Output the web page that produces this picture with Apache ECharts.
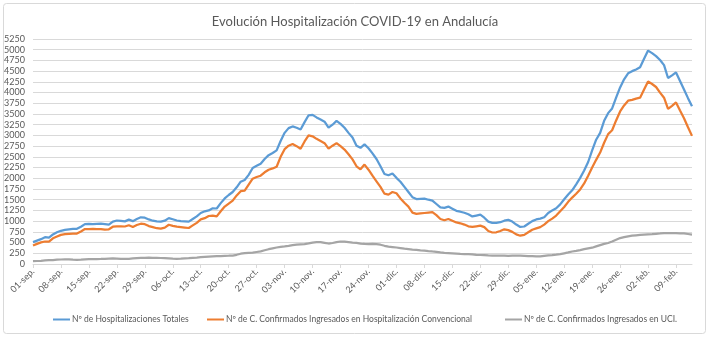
<!DOCTYPE html>
<html>
<head>
<meta charset="utf-8">
<script src="https://cdn.jsdelivr.net/npm/echarts@6/dist/echarts.min.js"></script>
<style>
  html, body { margin: 0; padding: 0; background: #ffffff; }
  #chart { width: 710px; height: 340px; }
</style>
</head>
<body>
<div id="chart"></div>
<script>
// Daily dates from 01-sep to 13-feb
const monthNames = ['sep.', 'oct.', 'nov.', 'dic.', 'ene.', 'feb.'];
const monthDays = [30, 31, 30, 31, 31, 13];
const categories = [];
monthNames.forEach((m, k) => {
  for (let d = 1; d <= monthDays[k]; d++) {
    categories.push(String(d).padStart(2, '0') + '-' + m);
  }
});

const seriesNames = [
  'Nº de Hospitalizaciones Totales',
  'Nº de C. Confirmados Ingresados en Hospitalización Convencional',
  'Nº de C. Confirmados Ingresados en UCI.'
];

// Total hospitalised
const totales = [
  510, 545, 580, 625, 615, 690, 740, 775, 795, 810,
  820, 820, 870, 930, 935, 930, 935, 940, 930, 920,
  990, 1015, 1005, 995, 1035, 1000, 1050, 1090, 1080, 1040,
  1010, 995, 990, 1010, 1070, 1045, 1015, 1000, 995, 990,
  1050, 1110, 1190, 1230, 1250, 1300, 1295, 1420, 1530, 1610,
  1680, 1790, 1920, 1960, 2080, 2240, 2290, 2340, 2450, 2540,
  2590, 2650, 2870, 3060, 3170, 3210, 3180, 3140, 3310, 3470,
  3480, 3420, 3370, 3320, 3180, 3250, 3340, 3270, 3180, 3060,
  2950, 2760, 2710, 2790, 2700, 2580, 2450, 2280, 2100, 2070,
  2110, 2010, 1920, 1800, 1680, 1560, 1515, 1520, 1525, 1500,
  1480, 1400, 1320, 1310, 1340, 1290, 1240, 1220, 1195, 1160,
  1110, 1130, 1150, 1080, 990, 960, 960, 975, 1010, 1030,
  990, 920, 865, 875, 940, 1000, 1040, 1060, 1090, 1190,
  1250, 1300, 1390, 1510, 1620, 1720, 1860, 2010, 2180, 2380,
  2650, 2900, 3060, 3340, 3520, 3630, 3880, 4120, 4310, 4450,
  4500, 4540, 4590, 4790, 4980, 4920, 4850, 4760, 4640, 4340,
  4400, 4470, 4270, 4070, 3870, 3680
];

// Confirmed cases in conventional ward
const convencional = [
  430, 470, 505, 525, 520, 600, 640, 680, 695, 705,
  710, 710, 760, 815, 815, 820, 815, 815, 800, 810,
  870, 880, 880, 875, 905, 865, 910, 940, 930, 885,
  860, 835, 825, 850, 915, 890, 870, 860, 850, 840,
  900, 960, 1040, 1070, 1120, 1130, 1110, 1230, 1340, 1410,
  1480, 1600, 1700, 1710, 1850, 1990, 2030, 2060, 2140, 2200,
  2230, 2270, 2500, 2680, 2760, 2800, 2750, 2690, 2860, 3000,
  2980, 2920, 2870, 2820, 2690, 2760, 2820, 2750, 2670, 2560,
  2440, 2280, 2210, 2320, 2200, 2060, 1930, 1800, 1640, 1620,
  1680, 1650, 1530, 1430, 1340, 1200, 1170, 1180, 1190, 1200,
  1210, 1140, 1050, 1020, 1050, 1010, 970, 950, 920, 880,
  865, 880, 895, 860, 770, 735, 740, 770, 810, 790,
  750, 690, 660, 680, 740, 800, 830, 860, 920, 1000,
  1060, 1130, 1230, 1330, 1450, 1550, 1640, 1740, 1880, 2060,
  2250, 2430, 2600, 2830, 3030, 3120, 3350, 3560, 3700, 3810,
  3830, 3860, 3880, 4070, 4260, 4200, 4130, 4000, 3880, 3620,
  3690, 3770, 3580, 3400, 3190, 2990
];

// Confirmed cases in ICU
const uci = [
  65, 70, 75, 82, 88, 92, 100, 105, 110, 108,
  100, 98, 102, 108, 112, 114, 116, 118, 122, 126,
  130, 128, 122, 118, 122, 130, 136, 142, 145, 146,
  144, 142, 140, 138, 132, 125, 122, 124, 130, 136,
  145, 150, 158, 165, 172, 178, 182, 186, 190, 193,
  197, 215, 240, 255, 262, 265, 280, 295, 320, 345,
  365, 385, 400, 412, 425, 440, 450, 458, 465, 480,
  500, 510, 512, 495, 478, 490, 510, 525, 520, 510,
  500, 492, 478, 468, 466, 467, 465, 450, 425, 405,
  395, 385, 372, 358, 348, 338, 330, 320, 312, 302,
  293, 285, 272, 260, 255, 250, 244, 238, 233, 228,
  222, 215, 210, 205, 200, 198, 196, 194, 193, 192,
  193, 194, 193, 190, 186, 182, 178, 176, 190, 200,
  208, 218, 230, 250, 270, 292, 308, 325, 345, 365,
  380, 410, 440, 468, 490, 525, 565, 605, 625, 645,
  660, 670, 678, 685, 692, 698, 705, 712, 720, 722,
  720, 718, 715, 712, 700, 688
];

const yMin = 0, yMax = 5250, yStep = 250;
const colors = ['#5B9BD5', '#ED7D31', '#A5A5A5'];
const font = 'Lato, "Noto Sans", sans-serif';
const textColor = '#595959';
const gridColor = '#D9D9D9';

const chart = echarts.init(document.getElementById('chart'), null, { renderer: 'canvas' });

function legendFor(name, left) {
  return {
    data: [name],
    left: left,
    top: 315,
    icon: 'rect',
    itemWidth: 17,
    itemHeight: 2,
    itemGap: 0,
    padding: 0,
    textStyle: { fontFamily: font, fontSize: 8.5, color: textColor, padding: [0, 0, 0, -3] },
    selectedMode: false
  };
}

chart.setOption({
  animation: false,
  backgroundColor: '#ffffff',
  color: colors,
  title: {
    text: 'Evolución Hospitalización COVID-19 en Andalucía',
    left: 'center',
    top: 10,
    textStyle: { fontFamily: font, fontSize: 13, fontWeight: 'normal', color: textColor }
  },
  legend: [
    legendFor(seriesNames[0], 53),
    legendFor(seriesNames[1], 207),
    legendFor(seriesNames[2], 505)
  ],
  grid: { left: 33, right: 18, top: 39, bottom: 76, containLabel: false },
  xAxis: {
    type: 'category',
    data: categories,
    boundaryGap: false,
    axisLine: { show: true, lineStyle: { color: gridColor, width: 1 } },
    axisTick: { show: true, interval: 6, length: 4, lineStyle: { color: gridColor } },
    axisLabel: {
      interval: 6, rotate: 45, margin: 6,
      fontFamily: font, fontSize: 9, color: textColor
    },
    splitLine: { show: false }
  },
  yAxis: {
    type: 'value',
    min: yMin, max: yMax, interval: yStep,
    axisLine: { show: false },
    axisTick: { show: false },
    axisLabel: {
      fontFamily: font, fontSize: 9, color: textColor, margin: 8,
      formatter: (v) => String(v)
    },
    splitLine: { show: true, lineStyle: { color: gridColor, width: 1 } }
  },
  series: [
    { name: seriesNames[0], type: 'line', data: totales, symbol: 'none', showSymbol: false,
      lineStyle: { width: 2.25, color: colors[0] }, itemStyle: { color: colors[0] } },
    { name: seriesNames[1], type: 'line', data: convencional, symbol: 'none', showSymbol: false,
      lineStyle: { width: 2.25, color: colors[1] }, itemStyle: { color: colors[1] } },
    { name: seriesNames[2], type: 'line', data: uci, symbol: 'none', showSymbol: false,
      lineStyle: { width: 2.25, color: colors[2] }, itemStyle: { color: colors[2] } }
  ],
  graphic: [{
    type: 'rect',
    shape: { x: 3.5, y: 3.5, width: 702, height: 330, r: 3 },
    style: { fill: 'none', stroke: gridColor, lineWidth: 1 },
    silent: true,
    z: 100
  }]
});
</script>
</body>
</html>
